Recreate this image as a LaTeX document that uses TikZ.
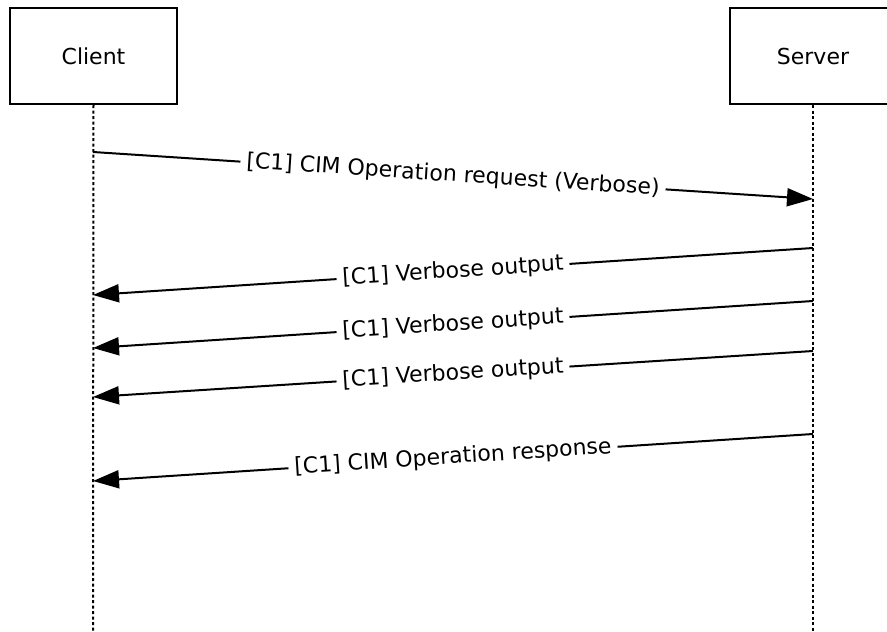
\documentclass[tikz,border=0pt]{standalone}
\usepackage{fontspec}
\setmainfont{DejaVu Sans}
\usetikzlibrary{arrows.meta}

\tikzset{
  party/.style={draw, line width=2pt, minimum width=167pt, minimum height=96pt},
  lifeline/.style={line width=2pt, dash pattern=on 3pt off 2.5pt},
  msg/.style={line width=2pt, -{Triangle[length=26pt, width=18pt]}},
  msglabel/.style={midway, sloped, fill=white, inner sep=6pt}
}

\begin{document}
\begin{tikzpicture}[x=1pt, y=-1pt, font=\fontsize{22}{26}\selectfont]
            \useasboundingbox (0, 0) rectangle (887, 632);

            \node (Client)[party] at (93.5, 56) {Client};
            \node (Server)[party] at (813, 56) {Server};
            \coordinate (CEnd) at (93, 632);
            \coordinate (SEnd) at (813, 632);
            \draw[lifeline] (Client.south) -- (CEnd);
            \draw[lifeline] (Server.south) -- (SEnd);

            \coordinate (C1) at (93, 152);
            \coordinate (S1) at (813, 199);
            \coordinate (S2) at (813, 248);
            \coordinate (C2) at (93, 295);
            \coordinate (S3) at (813, 301);
            \coordinate (C3) at (93, 348);
            \coordinate (S4) at (813, 351);
            \coordinate (C4) at (93, 397);
            \coordinate (S5) at (813, 434);
            \coordinate (C5) at (93, 481);

            \draw[msg] (C1) -- node[msglabel] {[C1] CIM Operation request (Verbose)} (S1);
            \draw[msg] (S2) -- node[msglabel] {[C1] Verbose output} (C2);
            \draw[msg] (S3) -- node[msglabel] {[C1] Verbose output} (C3);
            \draw[msg] (S4) -- node[msglabel] {[C1] Verbose output} (C4);
            \draw[msg] (S5) -- node[msglabel] {[C1] CIM Operation response} (C5);
    \end{tikzpicture}
\end{document}
